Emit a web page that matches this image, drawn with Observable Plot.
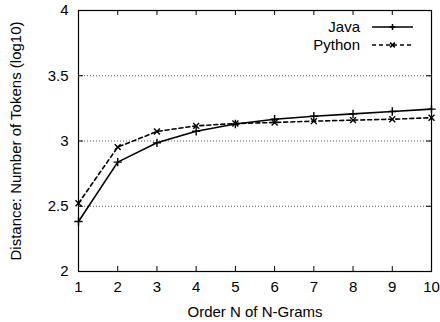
<!DOCTYPE html>
<html><head><meta charset="utf-8">
<script src="https://cdn.jsdelivr.net/npm/d3@7"></script>
<script src="https://cdn.jsdelivr.net/npm/@observablehq/plot@0.6"></script>
<style>
body{margin:0;background:#fff;font-family:"Liberation Sans",Arial,sans-serif;}
#wrap{position:relative;width:440px;height:322px;}
#legend{position:absolute;left:0;top:0;}
</style>
</head><body><div id="wrap"></div>
<script>
const orders = [1,2,3,4,5,6,7,8,9,10];
const java =   [2.383,2.838,2.986,3.075,3.130,3.167,3.190,3.208,3.226,3.244];
const python = [2.523,2.953,3.073,3.116,3.134,3.142,3.152,3.160,3.167,3.178];
const series = ["Java","Python"];
const yTicks = [2,2.5,3,3.5,4];
const gridTicks = [2.5,3,3.5];

const data = [];
orders.forEach((n,i)=>{data.push({n,v:java[i],s:"Java"});data.push({n,v:python[i],s:"Python"});});
const jv = data.filter(d=>d.s==="Java"), py = data.filter(d=>d.s==="Python");

const tx = 0.125, ty = 0.038;
const chart = Plot.plot({
  width:440,height:322,
  marginLeft:78,marginRight:9,marginTop:10,marginBottom:51,
  style:{fontFamily:"Liberation Sans, Arial, sans-serif",fontSize:"15px",color:"#000",background:"#fff"},
  x:{domain:[1,10]},
  y:{domain:[2,4]},
  marks:[
    Plot.ruleY(gridTicks,{stroke:"#555",strokeDasharray:"1,2",strokeWidth:1}),
    Plot.ruleX(orders,{y1:2,y2:2+ty,stroke:"#000"}),
    Plot.ruleX(orders,{y1:4-ty,y2:4,stroke:"#000"}),
    Plot.ruleY(yTicks,{x1:1,x2:1+tx,stroke:"#000"}),
    Plot.ruleY(yTicks,{x1:10-tx,x2:10,stroke:"#000"}),
    Plot.line(jv,{x:"n",y:"v",stroke:"#000",strokeWidth:1.6}),
    Plot.line(py,{x:"n",y:"v",stroke:"#000",strokeWidth:1.6,strokeDasharray:"4,3"}),
    Plot.dot(jv,{x:"n",y:"v",symbol:"plus",r:2.8,stroke:"#000",strokeWidth:1.4}),
    Plot.dot(py,{x:"n",y:"v",symbol:"times",r:2.8,stroke:"#000",strokeWidth:1.4}),
    Plot.frame({stroke:"#000",strokeWidth:1.2}),
    Plot.axisX(orders,{tickSize:0,tickPadding:10,label:"Order N of N-Grams",labelAnchor:"center",labelArrow:"none",labelOffset:45,fontSize:15}),
    Plot.axisY(yTicks,{tickSize:0,tickPadding:10,label:"Distance: Number of Tokens (log10)",labelAnchor:"center",labelArrow:"none",labelOffset:68,fontSize:15,tickFormat:d=>String(d)})
  ]
});
const wrap=document.getElementById("wrap");
wrap.appendChild(chart);

// legend
const ns="http://www.w3.org/2000/svg";
const lg=document.createElementNS(ns,"svg");
lg.setAttribute("id","legend");lg.setAttribute("width",440);lg.setAttribute("height",60);
const items=[{s:"Java",dash:null,sym:"plus",y:27},{s:"Python",dash:"4,3",sym:"times",y:45}];
items.forEach(it=>{
  const t=document.createElementNS(ns,"text");
  t.setAttribute("x",360);t.setAttribute("y",it.y);t.setAttribute("dy","0.35em");
  t.setAttribute("text-anchor","end");t.setAttribute("font-size","15");
  t.setAttribute("font-family","Liberation Sans, Arial, sans-serif");t.textContent=it.s;lg.appendChild(t);
  const l=document.createElementNS(ns,"line");
  l.setAttribute("x1",372);l.setAttribute("x2",413);l.setAttribute("y1",it.y);l.setAttribute("y2",it.y);
  l.setAttribute("stroke","#000");l.setAttribute("stroke-width",1.6);
  if(it.dash) l.setAttribute("stroke-dasharray",it.dash);
  lg.appendChild(l);
  const p=document.createElementNS(ns,"path");
  const cx=392.5,cy=it.y,r=3;
  p.setAttribute("d", it.sym==="plus" ? `M${cx-r},${cy}H${cx+r}M${cx},${cy-r}V${cy+r}` : `M${cx-r*0.8},${cy-r*0.8}L${cx+r*0.8},${cy+r*0.8}M${cx-r*0.8},${cy+r*0.8}L${cx+r*0.8},${cy-r*0.8}`);
  p.setAttribute("stroke","#000");p.setAttribute("stroke-width",1.5);
  lg.appendChild(p);
});
wrap.appendChild(lg);
</script></body></html>
